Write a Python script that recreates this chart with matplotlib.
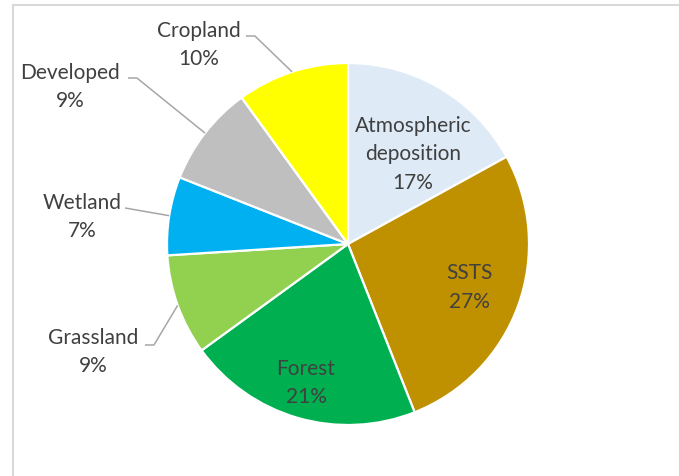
import numpy as np
import matplotlib
matplotlib.use("Agg")
import matplotlib.pyplot as plt
from matplotlib.lines import Line2D

# slices, clockwise from 12 o'clock
labels = ["Atmospheric\ndeposition", "SSTS", "Forest", "Grassland", "Wetland", "Developed", "Cropland"]
values = [17, 27, 21, 9, 7, 9, 10]
colors = ["#DEEBF7", "#BF9000", "#00B050", "#92D050", "#00B0F0", "#BFBFBF", "#FFFF00"]

# label placement in pie units (radius = 1): inside labels centre only,
# outside labels: text centre, leader elbow, leader end near text
inner_pos = {"Atmospheric\ndeposition": (0.36, 0.50), "SSTS": (0.67, -0.237), "Forest": (-0.232, -0.762)}
outer_pos = {
    "Cropland": ((-0.823, 1.105), (-0.514, 1.149), (-0.564, 1.149)),
    "Developed": ((-1.536, 0.873), (-1.166, 0.917), (-1.215, 0.917)),
    "Wetland": ((-1.470, 0.155), None, (-1.232, 0.199)),
    "Grassland": ((-1.409, -0.591), (-1.072, -0.558), (-1.122, -0.558)),
}

txt_color = "#404040"
plt.rcParams['font.family'] = ['Lato', 'DejaVu Sans']
fs = 15
lsp = 1.55

fig = plt.figure(figsize=(6.79, 4.77), dpi=100)
ax = fig.add_axes([0, 0, 1, 1])

wedges, _ = ax.pie(values, colors=colors, startangle=90, counterclock=False,
                   radius=1, wedgeprops=dict(edgecolor="white", linewidth=1.6))

for w, lab, v in zip(wedges, labels, values):
    mid = np.deg2rad((w.theta1 + w.theta2) / 2)
    text = f"{lab}\n{v}%"
    if lab in inner_pos:
        tx, ty = inner_pos[lab]
        ax.text(tx, ty, text, ha="center", va="center",
                fontsize=fs, color=txt_color, linespacing=lsp)
    else:
        (tx, ty), elbow, tend = outer_pos[lab]
        ax.text(tx, ty, text, ha="center", va="center", fontsize=fs,
                color=txt_color, linespacing=lsp)
        edge = (np.cos(mid), np.sin(mid))
        pts = [edge] + ([elbow] if elbow else []) + [tend]
        xs, ys = zip(*pts)
        ax.plot(xs, ys, color="#A6A6A6", lw=1.1, solid_capstyle="butt")

ax.set_xlim(-348 / 181, (679 - 348) / 181)
ax.set_ylim((245 - 477) / 181, 245 / 181)
ax.set_aspect("auto")
ax.axis("off")

# chart area border (only left and top edges fall inside the crop)
fig.add_artist(Line2D([13 / 679, 13 / 679], [0, 1 - 6 / 477], color="#D9D9D9", lw=1.5))
fig.add_artist(Line2D([13 / 679, 1], [1 - 6 / 477, 1 - 6 / 477], color="#D9D9D9", lw=1.5))

fig.savefig("out.png", dpi=100)
